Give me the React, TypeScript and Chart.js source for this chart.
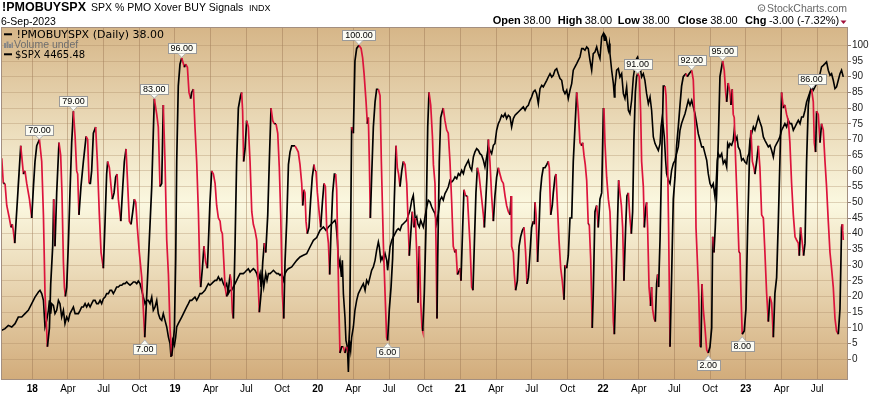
import React, { useEffect, useRef } from 'react';
import { Chart, registerables } from 'chart.js';
Chart.register(...registerables);

// ---- DATA ----
const titleSymbol = '!PMOBUYSPX';
const titleName = 'SPX % PMO Xover BUY Signals';
const titleExchange = 'INDX';
const lastDate = '6-Sep-2023';
const ohlcKeys = ['Open', 'High', 'Low', 'Close', 'Chg'];
const ohlcValues = ['38.00', '38.00', '38.00', '38.00', '-3.00 (-7.32%)'];
const legendPmo = '!PMOBUYSPX (Daily) 38.00';
const legendVolume = 'Volume undef';
const legendSpx = '$SPX 4465.48';

// [decimal year, % of SPX stocks with PMO crossover BUY signal]
const pmoSeries: [number, number][] = [
  [2017.786,64],[2017.797,56],[2017.809,56],[2017.821,49],[2017.839,45],[2017.851,42],[2017.860,43],[2017.867,41],[2017.877,37],[2017.919,68],
  [2017.938,59],[2017.949,60],[2017.961,56],[2017.980,51],[2017.996,45],[2018.008,55],[2018.019,63],[2018.031,68],[2018.050,70],[2018.066,63],
  [2018.078,46],[2018.089,21],[2018.106,4],[2018.120,10],[2018.129,24],[2018.143,36],[2018.150,51],[2018.159,36],[2018.171,53],[2018.187,69],
  [2018.199,65],[2018.208,53],[2018.218,31],[2018.225,23],[2018.232,20],[2018.241,23],[2018.253,37],[2018.264,53],[2018.276,69],[2018.288,79],
  [2018.300,71],[2018.311,60],[2018.318,59],[2018.327,46],[2018.341,55],[2018.358,63],[2018.377,71],[2018.388,70],[2018.398,56],[2018.407,56],
  [2018.416,60],[2018.428,72],[2018.444,74],[2018.456,63],[2018.470,46],[2018.482,34],[2018.498,29],[2018.510,44],[2018.521,59],[2018.528,63],
  [2018.540,61],[2018.552,55],[2018.561,51],[2018.573,53],[2018.584,58],[2018.594,59],[2018.603,51],[2018.620,44],[2018.634,55],[2018.645,63],
  [2018.657,67],[2018.669,55],[2018.680,44],[2018.692,43],[2018.704,47],[2018.715,51],[2018.725,50],[2018.736,42],[2018.750,34],[2018.767,26],
  [2018.778,16],[2018.788,7],[2018.813,31],[2018.837,55],[2018.855,83],[2018.872,78],[2018.883,74],[2018.895,55],[2018.907,56],[2018.918,81],
  [2018.930,63],[2018.942,38],[2018.954,27],[2018.965,10],[2018.977,1],[2018.989,6],[2018.996,10],[2019.005,32],[2019.012,63],[2019.023,87],
  [2019.035,94],[2019.047,96],[2019.066,93],[2019.075,94],[2019.087,93],[2019.098,85],[2019.110,83],[2019.117,85],[2019.129,86],[2019.140,74],
  [2019.152,63],[2019.164,47],[2019.175,26],[2019.180,23],[2019.192,29],[2019.203,36],[2019.215,31],[2019.227,29],[2019.234,37],[2019.245,50],
  [2019.257,60],[2019.269,59],[2019.281,56],[2019.292,49],[2019.304,45],[2019.316,44],[2019.323,41],[2019.332,40],[2019.341,32],[2019.351,23],
  [2019.362,20],[2019.374,22],[2019.386,27],[2019.393,25],[2019.402,15],[2019.409,13],[2019.421,37],[2019.432,63],[2019.444,80],[2019.460,84],
  [2019.467,85],[2019.474,79],[2019.481,63],[2019.491,67],[2019.502,76],[2019.514,74],[2019.526,63],[2019.538,47],[2019.549,43],[2019.561,41],
  [2019.573,38],[2019.584,23],[2019.591,15],[2019.603,21],[2019.615,31],[2019.626,37],[2019.636,34],[2019.650,46],[2019.661,63],[2019.673,80],
  [2019.685,76],[2019.696,75],[2019.708,75],[2019.720,72],[2019.731,61],[2019.741,46],[2019.752,21],[2019.762,13],[2019.771,31],[2019.783,44],
  [2019.795,62],[2019.806,66],[2019.818,68],[2019.825,68],[2019.841,68],[2019.853,67],[2019.864,66],[2019.876,62],[2019.888,56],[2019.895,49],
  [2019.904,54],[2019.911,53],[2019.918,44],[2019.927,40],[2019.939,42],[2019.951,51],[2019.962,58],[2019.974,62],[2019.981,60],[2019.988,60],
  [2019.998,53],[2020.012,46],[2020.021,42],[2020.033,50],[2020.044,56],[2020.054,55],[2020.063,42],[2020.075,37],[2020.084,27],[2020.093,40],
  [2020.105,53],[2020.117,59],[2020.126,59],[2020.133,54],[2020.140,37],[2020.149,16],[2020.156,2],[2020.168,4],[2020.180,4],[2020.191,2],
  [2020.203,4],[2020.215,2],[2020.224,10],[2020.238,74],[2020.250,72],[2020.261,95],[2020.273,99],[2020.289,100],[2020.304,99],[2020.315,96],
  [2020.325,91],[2020.339,82],[2020.348,75],[2020.355,77],[2020.362,63],[2020.369,45],[2020.378,58],[2020.390,74],[2020.402,82],[2020.413,86],
  [2020.425,86],[2020.437,84],[2020.446,63],[2020.460,37],[2020.472,21],[2020.483,7],[2020.490,6],[2020.502,16],[2020.514,23],[2020.525,32],
  [2020.537,51],[2020.549,68],[2020.558,61],[2020.567,59],[2020.577,55],[2020.589,60],[2020.600,63],[2020.612,62],[2020.624,56],[2020.635,42],
  [2020.642,33],[2020.652,40],[2020.663,47],[2020.675,42],[2020.684,45],[2020.694,34],[2020.703,18],[2020.712,36],[2020.722,18],[2020.731,10],
  [2020.736,9],[2020.747,21],[2020.759,42],[2020.771,74],[2020.780,85],[2020.792,81],[2020.804,71],[2020.811,62],[2020.822,56],[2020.829,37],
  [2020.836,13],[2020.841,32],[2020.852,63],[2020.862,77],[2020.873,79],[2020.880,80],[2020.892,76],[2020.904,73],[2020.915,72],[2020.927,63],
  [2020.939,50],[2020.950,36],[2020.962,34],[2020.969,35],[2020.979,27],[2020.990,28],[2020.997,29],[2021.004,25],[2021.016,42],[2021.025,54],
  [2021.037,52],[2021.049,52],[2021.056,46],[2021.067,37],[2021.079,23],[2021.088,22],[2021.098,37],[2021.109,53],[2021.119,61],[2021.130,59],
  [2021.142,54],[2021.154,49],[2021.161,46],[2021.168,42],[2021.177,50],[2021.186,58],[2021.196,70],[2021.207,63],[2021.219,52],[2021.231,44],
  [2021.242,52],[2021.254,58],[2021.266,61],[2021.277,59],[2021.289,57],[2021.301,56],[2021.313,52],[2021.324,49],[2021.336,47],[2021.348,46],
  [2021.355,52],[2021.359,36],[2021.371,34],[2021.378,27],[2021.387,22],[2021.399,25],[2021.411,36],[2021.422,39],[2021.434,41],[2021.446,42],
  [2021.457,34],[2021.467,24],[2021.476,26],[2021.488,34],[2021.499,42],[2021.511,44],[2021.518,43],[2021.523,50],[2021.530,46],[2021.541,31],
  [2021.551,42],[2021.560,53],[2021.570,58],[2021.581,61],[2021.593,61],[2021.605,62],[2021.616,63],[2021.623,61],[2021.633,46],[2021.644,49],
  [2021.651,53],[2021.663,58],[2021.670,59],[2021.679,50],[2021.691,38],[2021.703,29],[2021.714,25],[2021.726,19],[2021.733,30],[2021.745,29],
  [2021.756,33],[2021.768,45],[2021.780,45],[2021.791,63],[2021.803,74],[2021.815,85],[2021.826,79],[2021.838,69],[2021.850,68],[2021.857,69],
  [2021.866,65],[2021.875,62],[2021.885,57],[2021.896,43],[2021.903,43],[2021.913,32],[2021.924,10],[2021.931,21],[2021.943,47],[2021.955,49],
  [2021.966,42],[2021.978,51],[2021.990,53],[2022.002,80],[2022.006,80],[2022.013,69],[2022.025,58],[2022.037,51],[2022.048,47],[2022.060,32],
  [2022.072,12],[2022.079,8],[2022.090,26],[2022.100,42],[2022.109,57],[2022.118,53],[2022.128,49],[2022.137,42],[2022.146,25],[2022.158,42],
  [2022.167,52],[2022.177,53],[2022.188,45],[2022.198,40],[2022.207,47],[2022.216,70],[2022.226,85],[2022.235,90],[2022.242,91],[2022.254,90],
  [2022.263,79],[2022.270,63],[2022.282,55],[2022.289,42],[2022.298,48],[2022.305,50],[2022.312,42],[2022.322,23],[2022.333,17],[2022.340,23],
  [2022.347,16],[2022.357,13],[2022.366,12],[2022.375,24],[2022.382,27],[2022.389,23],[2022.399,38],[2022.410,63],[2022.422,87],[2022.434,87],
  [2022.441,84],[2022.450,69],[2022.459,42],[2022.469,4],[2022.480,26],[2022.492,51],[2022.504,58],[2022.515,68],[2022.527,74],[2022.539,81],
  [2022.550,87],[2022.562,90],[2022.581,91],[2022.590,90],[2022.604,91],[2022.621,92],[2022.632,89],[2022.644,74],[2022.651,42],[2022.660,32],
  [2022.670,21],[2022.679,4],[2022.686,4],[2022.693,24],[2022.702,16],[2022.714,10],[2022.726,3],[2022.737,2],[2022.749,4],[2022.761,10],
  [2022.768,39],[2022.777,34],[2022.786,42],[2022.796,53],[2022.807,69],[2022.819,90],[2022.838,95],[2022.849,92],[2022.859,85],[2022.866,82],
  [2022.877,88],[2022.889,85],[2022.896,81],[2022.905,86],[2022.912,78],[2022.919,77],[2022.929,63],[2022.943,46],[2022.952,34],[2022.959,34],
  [2022.966,21],[2022.975,8],[2022.989,9],[2023.001,16],[2023.013,42],[2023.025,63],[2023.036,73],[2023.046,63],[2023.057,61],[2023.064,59],
  [2023.076,63],[2023.088,68],[2023.099,61],[2023.111,46],[2023.123,45],[2023.134,34],[2023.146,21],[2023.158,12],[2023.169,20],[2023.181,18],
  [2023.193,7],[2023.204,21],[2023.216,26],[2023.228,44],[2023.239,63],[2023.251,85],[2023.263,80],[2023.274,81],[2023.286,78],[2023.298,76],
  [2023.309,69],[2023.321,56],[2023.333,46],[2023.345,39],[2023.356,38],[2023.368,37],[2023.375,33],[2023.384,42],[2023.396,37],[2023.405,33],
  [2023.415,37],[2023.426,63],[2023.438,81],[2023.450,85],[2023.461,86],[2023.473,82],[2023.480,69],[2023.489,66],[2023.496,79],[2023.508,78],
  [2023.520,69],[2023.531,75],[2023.543,73],[2023.555,63],[2023.566,55],[2023.578,44],[2023.590,34],[2023.601,29],[2023.613,23],[2023.625,13],
  [2023.636,9],[2023.648,8],[2023.660,16],[2023.667,32],[2023.671,42],[2023.675,43],[2023.679,41],[2023.683,38]
];

// [decimal year, S&P 500 close]
const spxSeries: [number, number][] = [
  [2017.786,2552],[2017.809,2564],[2017.832,2589],[2017.856,2577],[2017.879,2602],[2017.902,2652],[2017.926,2652],[2017.949,2678],[2017.972,2703],[2017.996,2753],
  [2018.019,2803],[2018.043,2841],[2018.054,2854],[2018.066,2829],[2018.078,2778],[2018.089,2577],[2018.101,2627],[2018.113,2703],[2018.120,2778],[2018.129,2678],
  [2018.136,2753],[2018.148,2740],[2018.159,2678],[2018.171,2703],[2018.183,2778],[2018.194,2753],[2018.206,2652],[2018.218,2703],[2018.229,2602],[2018.241,2652],
  [2018.253,2627],[2018.264,2678],[2018.276,2703],[2018.288,2728],[2018.300,2678],[2018.311,2678],[2018.323,2678],[2018.335,2703],[2018.346,2728],[2018.358,2728],
  [2018.370,2753],[2018.381,2728],[2018.393,2753],[2018.405,2728],[2018.416,2753],[2018.428,2778],[2018.440,2778],[2018.451,2753],[2018.463,2753],[2018.475,2778],
  [2018.486,2753],[2018.498,2791],[2018.510,2803],[2018.521,2829],[2018.533,2829],[2018.545,2854],[2018.556,2854],[2018.568,2829],[2018.580,2854],[2018.591,2879],
  [2018.603,2879],[2018.615,2892],[2018.627,2892],[2018.638,2904],[2018.650,2904],[2018.662,2917],[2018.673,2904],[2018.685,2892],[2018.697,2904],[2018.708,2917],
  [2018.720,2917],[2018.732,2904],[2018.743,2924],[2018.755,2904],[2018.767,2854],[2018.778,2803],[2018.790,2753],[2018.802,2778],[2018.813,2778],[2018.825,2753],
  [2018.837,2803],[2018.848,2703],[2018.860,2728],[2018.872,2778],[2018.883,2678],[2018.895,2640],[2018.907,2627],[2018.918,2678],[2018.930,2627],[2018.942,2577],
  [2018.954,2501],[2018.965,2451],[2018.972,2350],[2018.984,2476],[2018.996,2438],[2019.005,2501],[2019.012,2577],[2019.023,2602],[2019.035,2627],[2019.047,2652],
  [2019.059,2678],[2019.070,2703],[2019.082,2728],[2019.094,2753],[2019.105,2778],[2019.117,2778],[2019.129,2791],[2019.140,2803],[2019.152,2778],[2019.164,2803],
  [2019.175,2829],[2019.187,2829],[2019.199,2841],[2019.210,2854],[2019.222,2879],[2019.234,2904],[2019.245,2892],[2019.257,2904],[2019.269,2917],[2019.281,2929],
  [2019.292,2929],[2019.304,2955],[2019.316,2929],[2019.327,2942],[2019.339,2904],[2019.351,2879],[2019.362,2904],[2019.374,2829],[2019.386,2854],[2019.397,2854],
  [2019.409,2879],[2019.421,2904],[2019.432,2929],[2019.444,2955],[2019.456,2980],[2019.467,2980],[2019.479,2980],[2019.491,2992],[2019.502,3005],[2019.514,3017],
  [2019.526,2992],[2019.537,3005],[2019.549,3017],[2019.561,3005],[2019.573,2980],[2019.584,2929],[2019.596,2980],[2019.603,2879],[2019.612,2980],[2019.622,2879],
  [2019.636,2980],[2019.645,2929],[2019.655,2980],[2019.666,2980],[2019.678,2992],[2019.690,3005],[2019.701,2992],[2019.713,2980],[2019.725,2980],[2019.736,2967],
  [2019.748,2980],[2019.759,2929],[2019.771,2980],[2019.783,3005],[2019.795,3017],[2019.818,3030],[2019.853,3080],[2019.876,3106],[2019.899,3118],[2019.923,3131],
  [2019.946,3181],[2019.970,3231],[2019.993,3252],[2020.016,3307],[2020.040,3332],[2020.058,3307],[2020.075,3332],[2020.098,3357],[2020.121,3383],[2020.128,3357],
  [2020.138,3231],[2020.147,3030],[2020.156,3080],[2020.166,2955],[2020.173,3080],[2020.180,2829],[2020.191,2652],[2020.198,2476],[2020.208,2426],[2020.215,2237],
  [2020.222,2476],[2020.231,2401],[2020.238,2501],[2020.250,2577],[2020.261,2703],[2020.273,2778],[2020.285,2829],[2020.296,2854],[2020.308,2879],[2020.320,2904],
  [2020.332,2854],[2020.343,2929],[2020.355,2904],[2020.367,2955],[2020.378,3005],[2020.390,3030],[2020.402,3080],[2020.413,3156],[2020.425,3219],[2020.432,3181],
  [2020.442,3080],[2020.451,3106],[2020.460,3080],[2020.472,3131],[2020.484,3080],[2020.490,3005],[2020.500,3106],[2020.507,3181],[2020.519,3231],[2020.530,3257],
  [2020.542,3282],[2020.554,3307],[2020.565,3320],[2020.577,3307],[2020.589,3345],[2020.600,3357],[2020.612,3370],[2020.624,3383],[2020.635,3420],[2020.647,3458],
  [2020.659,3534],[2020.670,3571],[2020.677,3483],[2020.684,3383],[2020.694,3408],[2020.701,3357],[2020.712,3332],[2020.722,3383],[2020.731,3357],[2020.740,3332],
  [2020.752,3408],[2020.764,3483],[2020.775,3534],[2020.787,3521],[2020.799,3483],[2020.810,3458],[2020.822,3433],[2020.834,3357],[2020.845,3433],[2020.857,3534],
  [2020.869,3559],[2020.880,3534],[2020.892,3584],[2020.904,3609],[2020.915,3634],[2020.927,3685],[2020.939,3672],[2020.950,3685],[2020.962,3710],[2020.974,3697],
  [2020.986,3735],[2020.997,3722],[2021.009,3760],[2021.021,3735],[2021.032,3785],[2021.044,3811],[2021.056,3836],[2021.067,3785],[2021.079,3760],[2021.091,3861],
  [2021.102,3899],[2021.114,3924],[2021.126,3911],[2021.137,3886],[2021.149,3874],[2021.161,3836],[2021.172,3785],[2021.184,3861],[2021.196,3937],[2021.207,3911],
  [2021.219,3886],[2021.231,3949],[2021.242,3962],[2021.254,4063],[2021.266,4113],[2021.277,4138],[2021.289,4176],[2021.301,4163],[2021.313,4188],[2021.324,4151],
  [2021.336,4176],[2021.348,4163],[2021.359,4088],[2021.371,4151],[2021.383,4176],[2021.394,4188],[2021.406,4201],[2021.418,4214],[2021.429,4226],[2021.441,4239],
  [2021.453,4214],[2021.464,4239],[2021.476,4251],[2021.488,4289],[2021.499,4314],[2021.511,4352],[2021.523,4365],[2021.534,4339],[2021.546,4264],[2021.558,4377],
  [2021.570,4402],[2021.581,4390],[2021.593,4415],[2021.605,4440],[2021.616,4465],[2021.628,4490],[2021.640,4465],[2021.651,4478],[2021.663,4516],[2021.675,4528],
  [2021.686,4490],[2021.698,4453],[2021.710,4440],[2021.721,4365],[2021.733,4339],[2021.745,4365],[2021.756,4302],[2021.768,4365],[2021.780,4415],[2021.791,4516],
  [2021.803,4541],[2021.815,4566],[2021.826,4591],[2021.838,4616],[2021.850,4679],[2021.861,4679],[2021.873,4667],[2021.885,4692],[2021.896,4679],[2021.908,4591],
  [2021.920,4516],[2021.931,4642],[2021.943,4654],[2021.955,4692],[2021.966,4642],[2021.978,4604],[2021.990,4767],[2022.002,4793],[2022.009,4742],[2022.013,4780],
  [2022.020,4767],[2022.030,4705],[2022.037,4667],[2022.044,4717],[2022.048,4642],[2022.060,4516],[2022.072,4415],[2022.079,4314],[2022.083,4390],[2022.095,4516],
  [2022.107,4528],[2022.118,4465],[2022.130,4490],[2022.142,4339],[2022.153,4302],[2022.165,4390],[2022.177,4214],[2022.188,4188],[2022.200,4289],[2022.212,4465],
  [2022.223,4541],[2022.235,4604],[2022.242,4616],[2022.247,4591],[2022.254,4516],[2022.263,4516],[2022.270,4465],[2022.282,4490],[2022.293,4440],[2022.305,4339],
  [2022.317,4264],[2022.329,4314],[2022.340,4214],[2022.352,4012],[2022.364,3962],[2022.375,3937],[2022.387,3911],[2022.399,3962],[2022.406,4088],[2022.415,4163],
  [2022.422,4088],[2022.429,4012],[2022.438,3836],[2022.445,3735],[2022.457,3685],[2022.469,3660],[2022.480,3760],[2022.492,3811],[2022.504,3836],[2022.515,3886],
  [2022.527,3937],[2022.539,4063],[2022.550,4113],[2022.562,4151],[2022.574,4188],[2022.586,4239],[2022.597,4289],[2022.609,4251],[2022.621,4289],[2022.632,4239],
  [2022.644,4188],[2022.656,4113],[2022.667,4037],[2022.679,3987],[2022.691,3937],[2022.702,3937],[2022.714,3886],[2022.726,3836],[2022.737,3735],[2022.749,3660],
  [2022.761,3634],[2022.772,3660],[2022.784,3559],[2022.791,3634],[2022.800,3836],[2022.807,3886],[2022.819,3861],[2022.831,3886],[2022.842,3811],[2022.854,3836],
  [2022.866,3785],[2022.873,3962],[2022.882,3937],[2022.889,3962],[2022.901,3949],[2022.912,3987],[2022.919,4063],[2022.929,3987],[2022.938,4012],[2022.947,3937],
  [2022.959,3911],[2022.971,3836],[2022.982,3848],[2022.994,3823],[2023.006,3811],[2023.013,3861],[2023.022,3886],[2023.029,3987],[2023.041,4037],[2023.053,4088],
  [2023.064,4063],[2023.076,4113],[2023.088,4163],[2023.099,4125],[2023.111,4088],[2023.123,4012],[2023.134,3987],[2023.146,3962],[2023.158,3937],[2023.169,3949],
  [2023.181,3911],[2023.193,3861],[2023.204,3937],[2023.216,3962],[2023.228,3987],[2023.239,4012],[2023.251,4063],[2023.263,4088],[2023.274,4113],[2023.286,4088],
  [2023.298,4138],[2023.309,4113],[2023.321,4113],[2023.333,4063],[2023.345,4088],[2023.356,4113],[2023.368,4138],[2023.380,4113],[2023.391,4163],[2023.403,4163],
  [2023.415,4214],[2023.426,4276],[2023.438,4314],[2023.450,4352],[2023.461,4390],[2023.473,4365],[2023.485,4390],[2023.496,4415],[2023.508,4428],[2023.520,4490],
  [2023.531,4541],[2023.543,4553],[2023.555,4566],[2023.566,4579],[2023.578,4516],[2023.590,4478],[2023.601,4490],[2023.613,4440],[2023.625,4377],[2023.636,4390],
  [2023.648,4440],[2023.660,4490],[2023.671,4516],[2023.683,4465.48]
];

// value labels on extremes of the PMO series: date, side
const annotationDates = [2018.050, 2018.288, 2018.788, 2018.855, 2019.047, 2020.289, 2020.490, 2022.242, 2022.621, 2022.737, 2022.838, 2022.975, 2023.461];
const annotationSides = ['above', 'above', 'below', 'above', 'above', 'above', 'below', 'above', 'above', 'below', 'above', 'below', 'above'];

const xTickValues = [2018, 2018.25, 2018.5, 2018.75, 2019, 2019.25, 2019.5, 2019.75, 2020, 2020.25, 2020.5, 2020.75,
  2021, 2021.25, 2021.5, 2021.75, 2022, 2022.25, 2022.5, 2022.75, 2023, 2023.25, 2023.5];
const quarterLabels = ['Apr', 'Jul', 'Oct'];
const yTickValues = [0, 5, 10, 15, 20, 25, 30, 35, 40, 45, 50, 55, 60, 65, 70, 75, 80, 85, 90, 95, 100];

// ---- STYLE ----
const RED = '#dc143c';
const SANS = '"Liberation Sans", Arial, sans-serif';
const DEJAVU = '"DejaVu Sans", Verdana, sans-serif';

const isYear = (v: number) => Math.abs(v - Math.round(v)) < 1e-6;
const xLabel = (v: number) => {
  if (isYear(v)) return String(Math.round(v)).slice(2);
  const q = Math.round((v - Math.floor(v)) * 4);
  return quarterLabels[q - 1];
};

const bgPlugin = {
  id: 'bg',
  beforeDraw(chart: any) {
    const { ctx, chartArea } = chart;
    const { left, top, right, bottom } = chartArea;
    ctx.save();
    ctx.fillStyle = '#ffffff';
    ctx.fillRect(0, 0, chart.width, chart.height);
    const g = ctx.createLinearGradient(0, top, 0, bottom);
    g.addColorStop(0, 'rgb(214,182,136)');
    g.addColorStop(0.5, 'rgb(251,248,224)');
    g.addColorStop(1, 'rgb(210,172,123)');
    ctx.fillStyle = g;
    ctx.fillRect(left, top, right - left, bottom - top);
    ctx.restore();
  },
};

const framePlugin = {
  id: 'frame',
  afterDatasetsDraw(chart: any) {
    const { ctx, chartArea } = chart;
    const { left, top, right, bottom } = chartArea;
    ctx.save();
    ctx.strokeStyle = '#a38f80';
    ctx.lineWidth = 1;
    ctx.strokeRect(left - 0.5, top - 0.5, right - left + 1, bottom - top + 1);
    ctx.restore();
  },
};

const annotationPlugin = {
  id: 'annot',
  afterDatasetsDraw(chart: any) {
    const { ctx } = chart;
    const xs = chart.scales.x;
    const ys = chart.scales.y;
    ctx.save();
    ctx.font = `9px ${SANS}`;
    ctx.textAlign = 'center';
    ctx.textBaseline = 'middle';
    annotationDates.forEach((d, k) => {
      let best = 0;
      for (let i = 0; i < pmoSeries.length; i++) {
        if (Math.abs(pmoSeries[i][0] - d) < Math.abs(pmoSeries[best][0] - d)) best = i;
      }
      const [dx, v] = pmoSeries[best];
      const px = xs.getPixelForValue(dx);
      const py = ys.getPixelForValue(v);
      const text = v.toFixed(2);
      const w = Math.round(ctx.measureText(text).width) + 5;
      const h = 10;
      const above = annotationSides[k] === 'above';
      const bx = Math.round(px - w / 2) + 0.5;
      const by = above ? Math.round(py - 5 - h) + 0.5 : Math.round(py + 7) + 0.5;
      const tipY = above ? py - 0.5 : py + 2.5;
      const baseY = above ? by + h : by;
      ctx.fillStyle = '#fbfbf3';
      ctx.strokeStyle = '#9a9a9a';
      ctx.lineWidth = 1;
      ctx.fillRect(bx, by, w, h);
      ctx.strokeRect(bx, by, w, h);
      ctx.beginPath();
      ctx.moveTo(px - 4, baseY);
      ctx.lineTo(px, tipY);
      ctx.lineTo(px + 4, baseY);
      ctx.closePath();
      ctx.fillStyle = '#fbfbf3';
      ctx.fill();
      ctx.beginPath();
      ctx.moveTo(px - 4, baseY);
      ctx.lineTo(px, tipY);
      ctx.lineTo(px + 4, baseY);
      ctx.strokeStyle = '#b0b0b0';
      ctx.stroke();
      ctx.fillStyle = '#000';
      ctx.fillText(text, px, by + h / 2 + 0.5);
    });
    ctx.restore();
  },
};

const textPlugin = {
  id: 'texts',
  afterDraw(chart: any) {
    const { ctx } = chart;
    ctx.save();
    ctx.textBaseline = 'alphabetic';
    ctx.textAlign = 'left';
    ctx.fillStyle = '#000';
    // title
    ctx.font = `bold 12.5px ${SANS}`;
    ctx.fillText(titleSymbol, 2, 11);
    ctx.font = `10.5px ${SANS}`;
    ctx.fillText(titleName, 91, 11);
    ctx.font = `9px ${SANS}`;
    ctx.fillText(titleExchange, 249, 11);
    ctx.font = `10.5px ${SANS}`;
    ctx.fillText(lastDate, 1, 24.5);
    // copyright
    ctx.fillStyle = '#666';
    ctx.font = `10.5px ${SANS}`;
    ctx.textAlign = 'right';
    ctx.fillText('StockCharts.com', 847, 11.5);
    ctx.beginPath();
    ctx.arc(761.5, 8, 3.3, 0, Math.PI * 2);
    ctx.strokeStyle = '#666';
    ctx.lineWidth = 1;
    ctx.stroke();
    ctx.font = `6px ${SANS}`;
    ctx.textAlign = 'center';
    ctx.fillText('c', 761.5, 10);
    // OHLC
    ctx.textAlign = 'left';
    ctx.fillStyle = '#000';
    const starts = [492.7, 557.7, 617.7, 677.7, 745];
    ohlcKeys.forEach((k, i) => {
      ctx.font = `bold 11px ${SANS}`;
      ctx.fillText(k, starts[i], 24.3);
      const kw = ctx.measureText(k).width;
      ctx.font = `11px ${SANS}`;
      ctx.fillText(ohlcValues[i], starts[i] + kw + 2.5, 24.3);
    });
    ctx.fillStyle = '#a0103a';
    ctx.beginPath();
    ctx.moveTo(840.5, 20.5);
    ctx.lineTo(846.5, 20.5);
    ctx.lineTo(843.5, 24);
    ctx.closePath();
    ctx.fill();
    // legend
    ctx.fillStyle = '#000';
    ctx.fillRect(4, 33.3, 8, 2);
    ctx.font = `11px ${DEJAVU}`;
    ctx.fillText(legendPmo, 16.5, 38);
    ctx.fillStyle = '#888';
    ctx.fillRect(4, 43, 2, 5);
    ctx.fillRect(6.5, 41.5, 2, 6.5);
    ctx.fillRect(9, 44, 2, 4);
    ctx.fillRect(11.5, 42.5, 1.5, 5.5);
    ctx.fillStyle = '#6e6e6e';
    ctx.font = `10.5px ${SANS}`;
    ctx.fillText(legendVolume, 14, 47.7);
    ctx.fillStyle = '#000';
    ctx.fillRect(4, 53.3, 8, 2);
    ctx.font = `10px ${DEJAVU}`;
    ctx.fillText(legendSpx, 15, 57.7);
    ctx.restore();
  },
};

export default function App() {
  const ref = useRef<HTMLCanvasElement | null>(null);
  useEffect(() => {
    document.body.style.margin = '0';
    const canvas = ref.current;
    if (!canvas) return;
    const chart = new Chart(canvas, {
      type: 'line',
      data: {
        datasets: [
          {
            label: '!PMOBUYSPX',
            data: pmoSeries.map(([x, y]) => ({ x, y })),
            yAxisID: 'y',
            borderColor: '#000',
            borderWidth: 1.7,
            pointRadius: 0,
            tension: 0,
            segment: {
              borderColor: (c: any) => (c.p1.parsed.y < c.p0.parsed.y ? RED : '#000'),
            },
          },
          {
            label: '$SPX',
            data: spxSeries.map(([x, y]) => ({ x, y })),
            yAxisID: 'ySpx',
            borderColor: '#000',
            borderWidth: 1.6,
            pointRadius: 0,
            tension: 0,
          },
        ],
      },
      options: {
        animation: false,
        responsive: false,
        devicePixelRatio: 1,
        events: [],
        layout: { padding: { left: 2, top: 28, right: 0, bottom: 0 } },
        plugins: { legend: { display: false }, tooltip: { enabled: false }, title: { display: false } },
        scales: {
          x: {
            type: 'linear',
            position: 'bottom',
            min: 2017.7877,
            max: 2023.7092,
            afterBuildTicks: (s: any) => {
              s.ticks = xTickValues.map((v) => ({ value: v }));
            },
            afterFit: (s: any) => {
              s.height = 15;
            },
            grid: { color: 'rgba(150,112,78,0.42)', lineWidth: 1, drawTicks: false },
            border: { display: false },
            ticks: {
              autoSkip: false,
              maxRotation: 0,
              minRotation: 0,
              padding: 4,
              color: '#000',
              font: (c: any) => ({ family: SANS, size: 10, weight: c.tick && isYear(c.tick.value) ? 'bold' : 'normal' }),
              callback: (v: any) => xLabel(Number(v)),
            },
          },
          y: {
            type: 'linear',
            position: 'right',
            min: -6.27,
            max: 105.51,
            afterBuildTicks: (s: any) => {
              s.ticks = yTickValues.map((v) => ({ value: v }));
            },
            afterFit: (s: any) => {
              s.width = 29;
            },
            grid: { color: 'rgba(165,130,92,0.32)', tickColor: '#8c7b6b', tickLength: 4, drawTicks: true },
            border: { display: false },
            ticks: { padding: 1, color: '#222', font: { family: SANS, size: 10 }, callback: (v: any) => String(v) },
          },
          ySpx: { type: 'linear', display: false, min: 2184, max: 4835 },
        },
      },
      plugins: [bgPlugin, framePlugin, annotationPlugin, textPlugin],
    } as any);
    return () => chart.destroy();
  }, []);
  return (
    <div style={{ position: 'absolute', left: 0, top: 0, width: 876, height: 394, background: '#fff' }}>
      <canvas ref={ref} width={876} height={394} style={{ display: 'block', width: 876, height: 394 }} />
    </div>
  );
}
